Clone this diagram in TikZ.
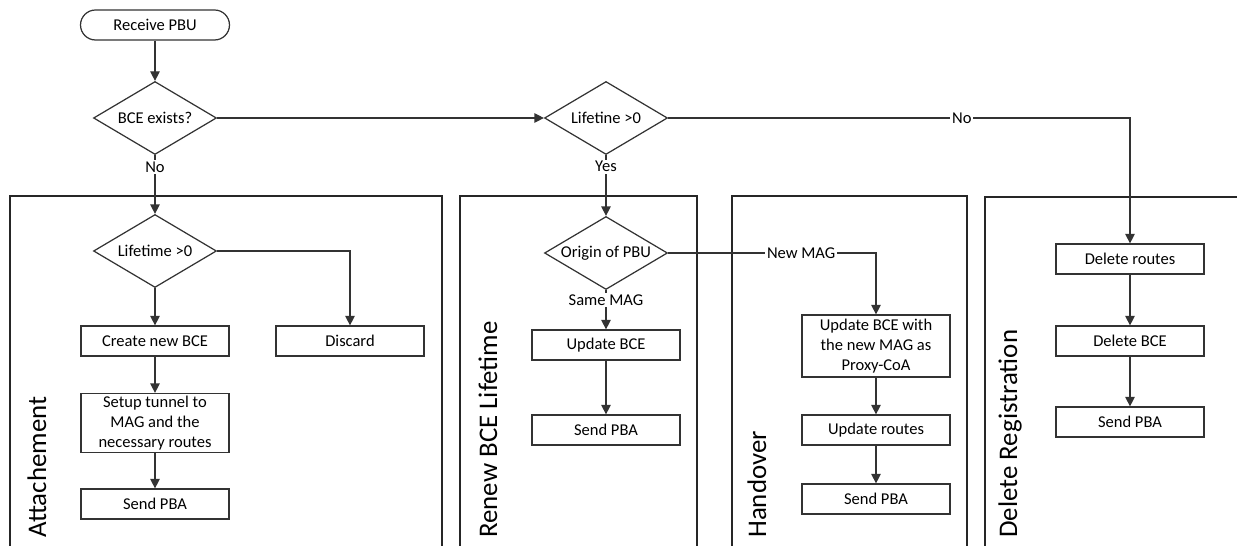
\documentclass[tikz,border=0pt]{standalone}
\usepackage{fontspec}
\setmainfont{Carlito}
\usetikzlibrary{shapes.geometric, arrows.meta, positioning}
\tikzstyle{startstop} = [rectangle, rounded corners=0.3cm, minimum width=2.98cm, minimum height=0.6cm, text centered, draw=black!80, line width=0.7pt]
\tikzstyle{decision} = [diamond, aspect=1.7, minimum width=2.46cm, minimum height=1.46cm, inner sep=0pt, text centered, draw=black!80, line width=0.7pt]
\tikzstyle{process} = [rectangle, minimum width=2.96cm, minimum height=0.6cm, inner sep=1pt, align=center, draw=black!80, line width=0.7pt]
\tikzstyle{arrow} = [line width=0.7pt, draw=black!80, -{Triangle[length=1.9mm,width=1.9mm]}]
\tikzstyle{branch} = [fill=white, inner sep=1pt]
\tikzstyle{lane} = [draw=black!85, line width=0.7pt]
\tikzstyle{lanelabel} = [rotate=90, anchor=west, inner sep=0pt, font=\fontsize{15.3}{18}\selectfont]

\begin{document}
\begin{tikzpicture}[x=0.02cm, y=-0.02cm, font=\fontsize{9.4}{11.3}\selectfont]
\clip (0,0) rectangle (1237,546);

% Lanes
\draw [lane] (10,560) |- (442,196) -- (442,560);
\draw [lane] (460,560) |- (697,196) -- (697,560);
\draw [lane] (732,560) |- (967,196) -- (967,560);
\draw [lane] (985,560) |- (1250,197) -- (1250,560);
\node (lbl_attach) [lanelabel] at (37,538) {Attachement};
\node (lbl_renew) [lanelabel] at (488,538) {Renew BCE Lifetime};
\node (lbl_handover) [lanelabel] at (757,538) {Handover};
\node (lbl_delete) [lanelabel] at (1010,538) {Delete Registration};

% Entry
\node (receive) [startstop] at (155,25) {Receive PBU};
\node (bce_exists) [decision] at (155,118) {BCE exists?};

% Attachement
\node (life_a) [decision] at (155,251) {Lifetime >0};
\node (create_bce) [process] at (155,341) {Create new BCE};
\node (discard) [process] at (350,341) {Discard};
\node (setup_tunnel) [process, minimum height=1.18cm] at (155,423) {Setup tunnel to\\MAG and the\\necessary routes};
\node (send_a) [process] at (155,504) {Send PBA};

% Renew BCE Lifetime
\node (life_b) [decision] at (606,118) {Lifetine >0};
\node (origin) [decision] at (606,253) {Origin of PBU};
\node (update_bce) [process] at (606,345) {Update BCE};
\node (send_b) [process] at (606,430) {Send PBA};

% Handover
\node (update_mag) [process, minimum height=1.24cm] at (876,346) {Update BCE with\\the new MAG as\\Proxy-CoA};
\node (update_routes) [process] at (876,430) {Update routes};
\node (send_c) [process] at (876,499) {Send PBA};

% Delete Registration
\node (del_routes) [process] at (1130,259) {Delete routes};
\node (del_bce) [process] at (1130,341) {Delete BCE};
\node (send_d) [process] at (1130,422) {Send PBA};

% Arrows
\draw [arrow] (receive) -- (bce_exists);
\draw [arrow] (bce_exists) -- node[branch, pos=0.2] {No} (life_a);
\draw [arrow] (bce_exists) -- (life_b);
\draw [arrow] (life_a) -- (create_bce);
\draw [arrow] (life_a.east) -| (discard);
\draw [arrow] (create_bce) -- (setup_tunnel);
\draw [arrow] (setup_tunnel) -- (send_a);
\draw [arrow] (life_b) -- node[branch, pos=0.19] {Yes} (origin);
\draw [arrow] (life_b.east) -| node[branch, pos=0.318] {No} (del_routes);
\draw [arrow] (origin) -- node[branch, pos=0.25] {Same MAG} (update_bce);
\draw [arrow] (origin.east) -| node[branch, pos=0.32] {New MAG} (update_mag);
\draw [arrow] (update_bce) -- (send_b);
\draw [arrow] (update_mag) -- (update_routes);
\draw [arrow] (update_routes) -- (send_c);
\draw [arrow] (del_routes) -- (del_bce);
\draw [arrow] (del_bce) -- (send_d);

\end{tikzpicture}
\end{document}
